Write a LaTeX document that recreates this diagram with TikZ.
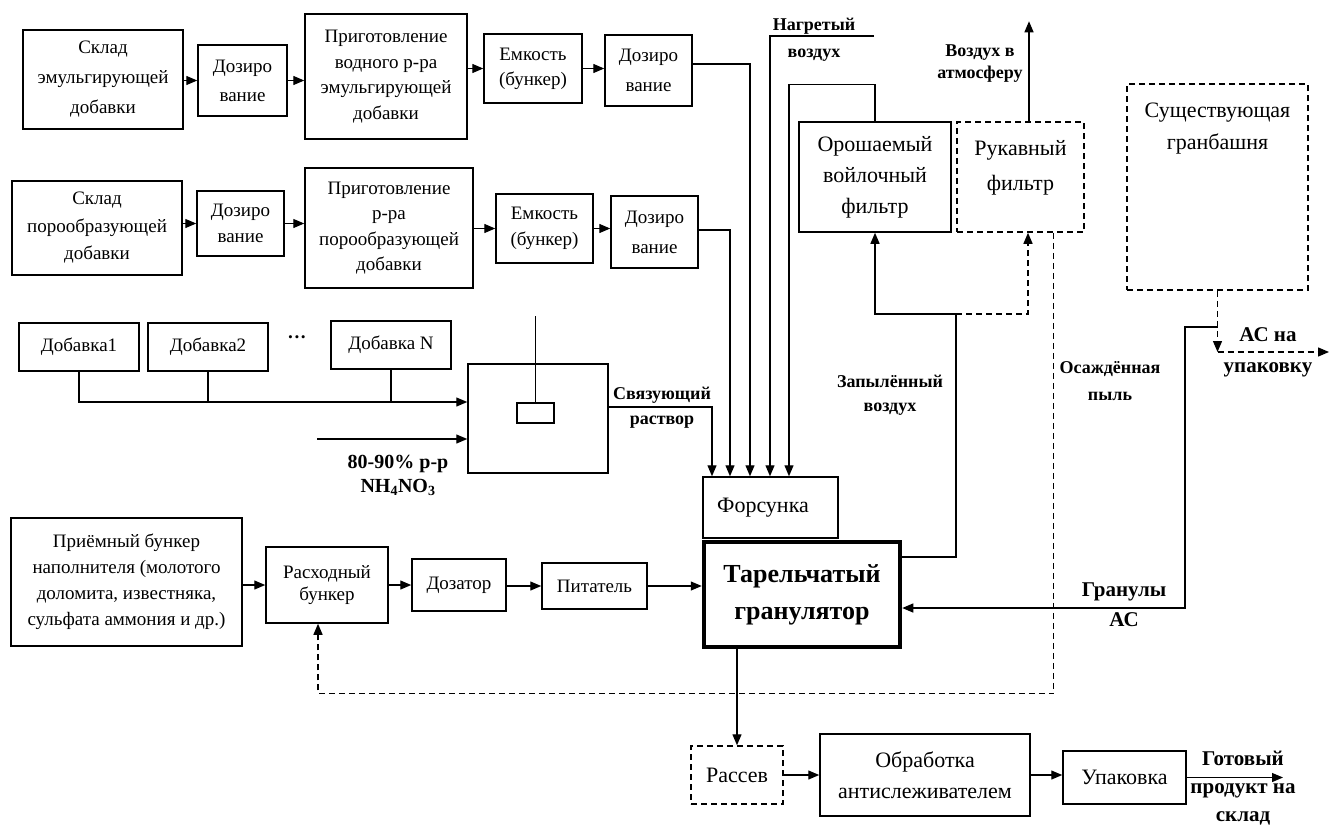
\documentclass[tikz,border=0pt]{standalone}
\usepackage{fontspec}
\setmainfont{Liberation Serif}
\usetikzlibrary{arrows.meta}
\newcommand\setfs[2]{\fontsize{#1}{#2}\selectfont}
\begin{document}
\begin{tikzpicture}[x=1pt,y=-1pt,
  box/.style={draw,line width=1.5pt,inner sep=0pt,align=center},
  dbox/.style={box,dash pattern=on 6pt off 4pt},
  ln/.style={line width=1.3pt},
  arr/.style={ln,-{Triangle[length=11pt,width=9pt]}},
  dsh/.style={dash pattern=on 6pt off 4pt},
  lbl/.style={align=center,inner sep=0pt}]
\fill[white] (0,0) rectangle (1331,828);
\useasboundingbox (0,0) rectangle (1331,828);

% row 1
\node[box,minimum width=160,minimum height=99,font=\setfs{19}{30}] (B1) at (103,79.5) {Склад\\эмульгирующей\\добавки};
\node[box,minimum width=89,minimum height=71,font=\setfs{19}{29}] (D1) at (242.5,80.5) {Дозиро\\вание};
\node[box,minimum width=162,minimum height=125,font=\setfs{19}{25.5}] (P1) at (386,76.5) {Приготовление\\водного р-ра\\эмульгирующей\\добавки};
\node[box,minimum width=98,minimum height=69,font=\setfs{19}{25}] (E1) at (533,68.5) {Емкость\\(бункер)};
\node[box,minimum width=87,minimum height=71,font=\setfs{19}{30}] (DD1) at (648.5,70.5) {Дозиро\\вание};

% row 2
\node[box,minimum width=170,minimum height=94,font=\setfs{19}{27.5}] (B2) at (97,228) {Склад\\порообразующей\\добавки};
\node[box,minimum width=87,minimum height=65,font=\setfs{19}{26}] (D2) at (240.5,223.5) {Дозиро\\вание};
\node[box,minimum width=168,minimum height=120,font=\setfs{19}{25.5}] (P2) at (389,228) {Приготовление\\р-ра\\порообразующей\\добавки};
\node[box,minimum width=97,minimum height=69,font=\setfs{19}{26}] (E2) at (544.5,228.5) {Емкость\\(бункер)};
\node[box,minimum width=87,minimum height=72,font=\setfs{19}{30}] (DD2) at (654.5,232) {Дозиро\\вание};

% row 3
\node[box,minimum width=120,minimum height=48,font=\setfs{19}{22}] (A1) at (79,347) {Добавка1};
\node[box,minimum width=120,minimum height=48,font=\setfs{19}{22}] (A2) at (208,347) {Добавка2};
\node[font=\bfseries\setfs{19}{22}] (dots) at (297,340) {···};
\node[box,minimum width=120,minimum height=48,font=\setfs{19}{22}] (AN) at (391,345) {Добавка N};
\node[box,minimum width=140,minimum height=109] (M) at (538,418.5) {};
\node[box,minimum width=37,minimum height=20] (Pd) at (535.5,413) {};

% bottom left
\node[box,minimum width=231,minimum height=128,font=\setfs{19}{26}] (Pr) at (126.5,582) {Приёмный бункер\\наполнителя (молотого\\доломита, известняка,\\сульфата аммония и др.)};
\node[box,minimum width=122,minimum height=76,font=\setfs{19}{22}] (Rb) at (327,585) {Расходный\\бункер};
\node[box,minimum width=94,minimum height=52,font=\setfs{19}{22}] (Dz) at (459,585) {Дозатор};
\node[box,minimum width=105,minimum height=46,font=\setfs{19}{22}] (Pt) at (594.5,586) {Питатель};

% centre
\node[box,minimum width=135,minimum height=61,font=\setfs{22}{26}] (F) at (770.5,507.5) {\hspace*{-15pt}Форсунка};
\node[box,line width=4.5pt,minimum width=196,minimum height=105,font=\bfseries\setfs{26}{37}] (G) at (802,594.5) {Тарельчатый\\гранулятор};

% filters and tower
\node[box,minimum width=152,minimum height=110,font=\setfs{22}{31}] (O) at (875,177) {Орошаемый\\войлочный\\фильтр};
\node[dbox,minimum width=127,text height=68pt,text depth=42pt,font=\setfs{22}{35}] (R) at (1020.5,177) {Рукавный\\фильтр};
\node[dbox,minimum width=181,text height=65pt,text depth=141pt,font=\setfs{22}{32}] (T) at (1217.5,187) {Существующая\\гранбашня};

% bottom right
\node[dbox,minimum width=92,minimum height=58,font=\setfs{22}{26}] (Rs) at (737,775) {Рассев};
\node[box,minimum width=210,minimum height=82,font=\setfs{22}{31}] (Ob) at (925,775) {Обработка\\антислеживателем};
\node[box,minimum width=123,minimum height=53,font=\setfs{22}{26}] (Up) at (1124.5,777.5) {Упаковка};

% labels
\node[lbl,font=\bfseries\setfs{18}{27}] (lHot) at (814,39.5) {Нагретый\\воздух};
\node[lbl,font=\bfseries\setfs{18}{22}] (lAtm) at (980,64) {Воздух в\\атмосферу};
\node[lbl,font=\bfseries\setfs{18}{24}] (lDust) at (890,395) {Запылённый\\воздух};
\node[lbl,font=\bfseries\setfs{18}{25}] (lBind) at (662,407.5) {Связующий\\раствор};
\node[lbl,font=\bfseries\setfs{18}{27}] (lSed) at (1110,381.5) {Осаждённая\\пыль};
\node[lbl,font=\bfseries\setfs{21}{30}] (lGr) at (1124,605) {Гранулы\\АС};
\node[lbl,font=\bfseries\setfs{21}{31}] (lAC) at (1268,352.5) {АС на\\упаковку};
\node[lbl,font=\bfseries\setfs{21}{28}] (lOut) at (1243,788) {Готовый\\продукт на\\склад};
\node[lbl,font=\bfseries\setfs{20}{24}] (lNH) at (398,475) {80-90\% р-р\\NH\textsubscript{4}NO\textsubscript{3}};

% free ends
\coordinate (hot) at (874,36);
\coordinate (nh) at (317,439);
\coordinate (dj) at (956,314);
\coordinate (tj) at (1217.5,352);
\coordinate (acout) at (1329,352);
\coordinate (tk) at (1217.5,327);
\coordinate (gout) at (1283,777.5);

% row arrows
\draw[arr] (D1.west -| B1.east) -- (D1.west);
\draw[arr] (D1.east) -- (D1.east -| P1.west);
\draw[arr] (E1.west -| P1.east) -- (E1.west);
\draw[arr] (E1.east) -- (E1.east -| DD1.west);
\draw[arr] (D2.west -| B2.east) -- (D2.west);
\draw[arr] (D2.east) -- (D2.east -| P2.west);
\draw[arr] (E2.west -| P2.east) -- (E2.west);
\draw[arr] (E2.east) -- (E2.east -| DD2.west);

% additives to mixer
\draw[arr] (A1.south) |- ([yshift=16.5]M.west);
\draw[ln] (A2.south) -- ++(0,31);
\draw[ln] (AN.south) -- ++(0,33);
\draw[arr] (nh) -- (nh -| M.west);
\draw[ln] (Pd.north) -- ++(0,-86);

% feeds into nozzle
\draw[arr] ([yshift=11.5]M.east) -| ([xshift=-58.5]F.north);
\draw[arr] ([yshift=2]DD2.east) -| ([xshift=-40.5]F.north);
\draw[arr] ([yshift=6.5]DD1.east) -| ([xshift=-20.5]F.north);
\draw[arr] (hot) -| ([xshift=-0.5]F.north);
\draw[arr] (O.north) -- ++(0,-37) -| ([xshift=18.5]F.north);

% filler line
\draw[arr] (Rb.west -| Pr.east) -- (Rb.west);
\draw[arr] (Dz.west -| Rb.east) -- (Dz.west);
\draw[arr] (Pt.west -| Dz.east) -- (Pt.west);
\draw[arr] (Pt.east) -- (Pt.east -| G.west);

% granulator out
\draw[arr] (Rs.north |- G.south) -- (Rs.north);
\draw[arr] (Rs.east) -- (Rs.east -| Ob.west);
\draw[arr] (Ob.east) -- (Ob.east -| Up.west);
\draw[arr] (Up.east) -- (gout);

% dusty air
\draw[ln] ([yshift=37.5]G.east) -| (dj);
\draw[arr] (dj) -| (O.south);
\draw[arr,dsh] (dj) -| ([xshift=7.5]R.south);
\draw[arr] ([xshift=8.5]R.north) -- ++(0,-100);

% sediment return
\draw[arr,dsh] ([xshift=33]R.south) -- ++(0,461) -| ([xshift=-9]Rb.south);

% tower
\draw[arr,dsh] (T.south) -- (tj);
\draw[arr,dsh] (tj) -- (acout);
\draw[arr] (tk) -- ++(-32.5,0) |- ([yshift=-13.5]G.east);
\end{tikzpicture}
\end{document}
